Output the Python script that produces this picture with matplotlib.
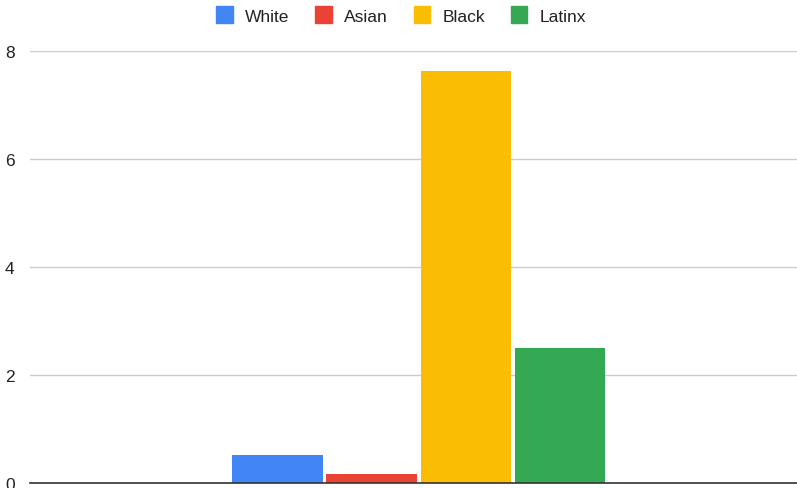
import matplotlib
matplotlib.use("Agg")
import matplotlib.pyplot as plt
import numpy as np

series = ["White", "Asian", "Black", "Latinx"]
values = [0.52, 0.17, 7.64, 2.49]
colors = ["#4285F4", "#EA4335", "#FBBC04", "#34A853"]
yticks = [0, 2, 4, 6, 8]

plt.rcParams['font.family'] = ['Liberation Sans', 'DejaVu Sans']

W, H = 797, 489
fig = plt.figure(figsize=(W / 100, H / 100), dpi=100)
left, right = 30 / W, 797 / W
bottom, top = (H - 483.7) / H, (H - 52.3) / H
ax = fig.add_axes([left, bottom, right - left, top - bottom])

step = 0.1228
bw = 0.118
n = len(series)
offsets = (np.arange(n) - (n - 1) / 2) * step
ax.bar(offsets, values, width=bw, color=colors, zorder=3)

ax.set_xlim(-0.5 - 0.0068, 0.5 - 0.0068)
ax.set_ylim(0, 8)
ax.set_yticks(yticks)
ax.set_yticklabels([str(t) for t in yticks])
ax.set_xticks([])
ax.grid(axis='y', color='#cccccc', linewidth=1, zorder=0)
for s in ['top', 'right', 'left']:
    ax.spines[s].set_visible(False)
ax.spines['bottom'].set_color('#333333')
ax.spines['bottom'].set_linewidth(1.2)
ax.spines['bottom'].set_zorder(4)
ax.tick_params(axis='y', length=0, pad=11, labelsize=12.5, labelcolor='#222222')

handles = [plt.Rectangle((0, 0), 1, 1, color=c) for c in colors]
fig.legend(handles, series, loc='center', bbox_to_anchor=(401 / W, 1 - 16 / H),
           ncol=4, frameon=False, fontsize=12.5, handlelength=0.95, handleheight=1.15,
           handletextpad=0.7, columnspacing=1.5, labelcolor='#222222')

fig.savefig("out.png", dpi=100)
